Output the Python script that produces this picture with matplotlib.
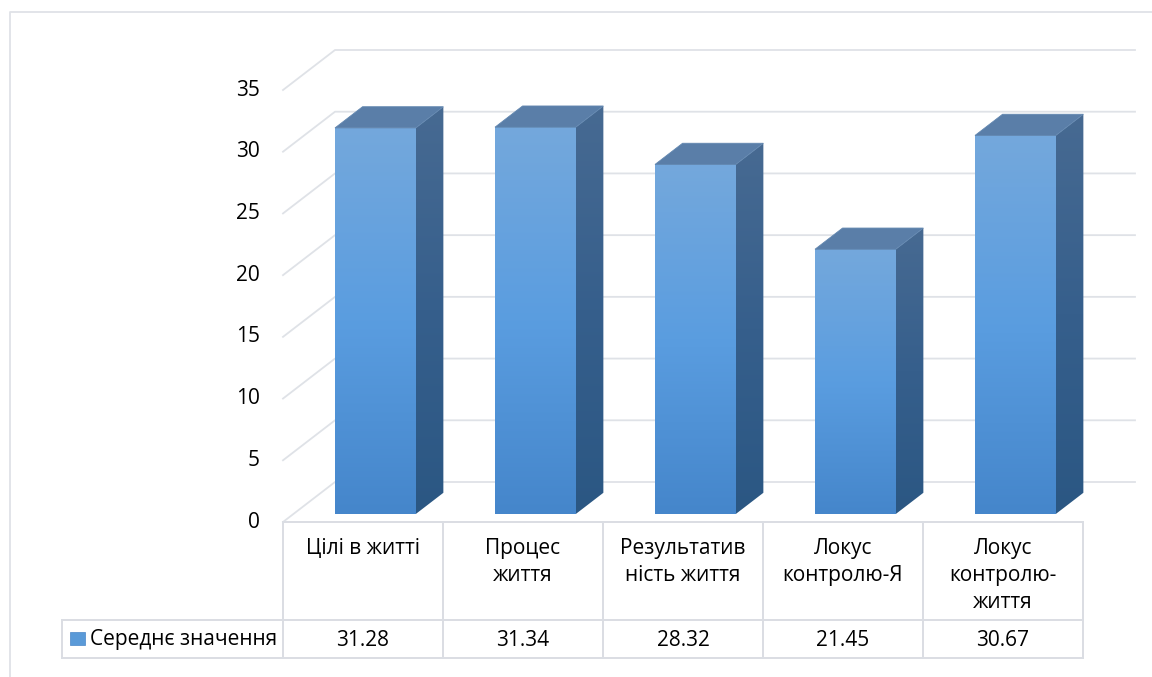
import numpy as np
import matplotlib
matplotlib.use('Agg')
import matplotlib.pyplot as plt
import matplotlib.transforms as mtransforms
from matplotlib.patches import Polygon, Rectangle
from matplotlib.colors import LinearSegmentedColormap

plt.rcParams['font.family'] = ['Open Sans', 'DejaVu Sans']

# data
categories = ['Цілі в житті', 'Процес\nжиття', 'Результатив\nність життя',
              'Локус\nконтролю-Я', 'Локус\nконтролю-\nжиття']
values = [31.28, 31.34, 28.32, 21.45, 30.67]
series_name = 'Середнє значення'
yticks = [0, 5, 10, 15, 20, 25, 30, 35]

W, H = 1152, 677
fig = plt.figure(figsize=(W / 100, H / 100), dpi=100)
ax = fig.add_axes([0, 0, 1, 1])
ax.axis('off')

# one category = 160 px, floor front-left corner at (283, 522) px
x0, y0 = 283, 522
col_w = 160
k = 432 / 35
xlim = (-x0 / col_w, (W - x0) / col_w)
ylim = (-(H - y0) / k, y0 / k)

depth_x, depth_y = 52 / col_w, 40 / k
n = len(values)
grid_c = '#dfe2e7'
fs = 15

# pixel transform (top-left origin) for frame and table
P = mtransforms.Affine2D().scale(1 / W, -1 / H).translate(0, 1) + fig.transFigure
XP = mtransforms.blended_transform_factory(ax.transData, P)

# outer frame
ax.plot([10, 10, W], [H, 12, 12], color=grid_c, lw=1.3, transform=P, clip_on=False)

# gridlines (front diagonal + back wall)
for v in yticks:
    ax.plot([0, depth_x, n + depth_x], [v, v + depth_y, v + depth_y],
            color=grid_c, lw=1.3, zorder=1)
    ax.text(-0.145, v, str(v), ha='right', va='center', fontsize=fs, color='#000000')

front_cm = LinearSegmentedColormap.from_list('front', ['#4586cb', '#5a9de0', '#74a8dc'])
side_cm = LinearSegmentedColormap.from_list('side', ['#2b5783', '#365f8c', '#476a92'])
grad = np.linspace(0, 1, 256).reshape(-1, 1)


def grad_face(pts, cmap):
    poly = Polygon(pts, closed=True, facecolor='none', edgecolor='none')
    ax.add_patch(poly)
    xs = [p[0] for p in pts]
    ys = [p[1] for p in pts]
    im = ax.imshow(grad, cmap=cmap, origin='lower', aspect='auto',
                   interpolation='bilinear',
                   extent=[min(xs), max(xs), min(ys), max(ys)], zorder=3)
    im.set_clip_path(poly)


f0, f1 = 0.2, 0.73
bw = 0.505
for i, v in enumerate(values):
    L = i + 0.26
    lf, rf = L + f0 * depth_x, L + bw + f0 * depth_x
    lb, rb = L + f1 * depth_x, L + bw + f1 * depth_x
    b0, b1 = f0 * depth_y, f1 * depth_y
    grad_face([(lf, b0), (rf, b0), (rf, b0 + v), (lf, b0 + v)], front_cm)
    grad_face([(rf, b0), (rb, b1), (rb, b1 + v), (rf, b0 + v)], side_cm)
    ax.add_patch(Polygon([(lf, b0 + v), (rf, b0 + v), (rb, b1 + v), (lb, b1 + v)],
                         closed=True, facecolor='#5a7ea8', edgecolor='#6287b0',
                         lw=0.6, zorder=4))

# data table
tc = '#dadde3'
ax.plot([0, n], [y0, y0], color=tc, lw=1.4, transform=XP, zorder=2)
for i in range(n + 1):
    ax.plot([i, i], [y0, 658], color=tc, lw=1.4, transform=XP)
leg_left = (62 - x0) / col_w
for yy in (620, 658):
    ax.plot([leg_left, n], [yy, yy], color=tc, lw=1.4, transform=XP)
ax.plot([leg_left, leg_left], [620, 658], color=tc, lw=1.4, transform=XP)

for i, (c, v) in enumerate(zip(categories, values)):
    ax.text(i + 0.5, 538, c, ha='center', va='top', fontsize=fs,
            linespacing=1.38, transform=XP)
    ax.text(i + 0.5, 640, f'{v:.2f}', ha='center', va='center', fontsize=fs,
            transform=XP)

ax.add_patch(Rectangle((70, 645), 15, -13, transform=P, facecolor='#5a9ad8',
                       edgecolor='#4a86c8', lw=0.5, clip_on=False))
ax.text(90, 640, series_name, ha='left', va='center', fontsize=fs, transform=P)

ax.set_xlim(*xlim)
ax.set_ylim(*ylim)
fig.savefig('out.png', dpi=100)
